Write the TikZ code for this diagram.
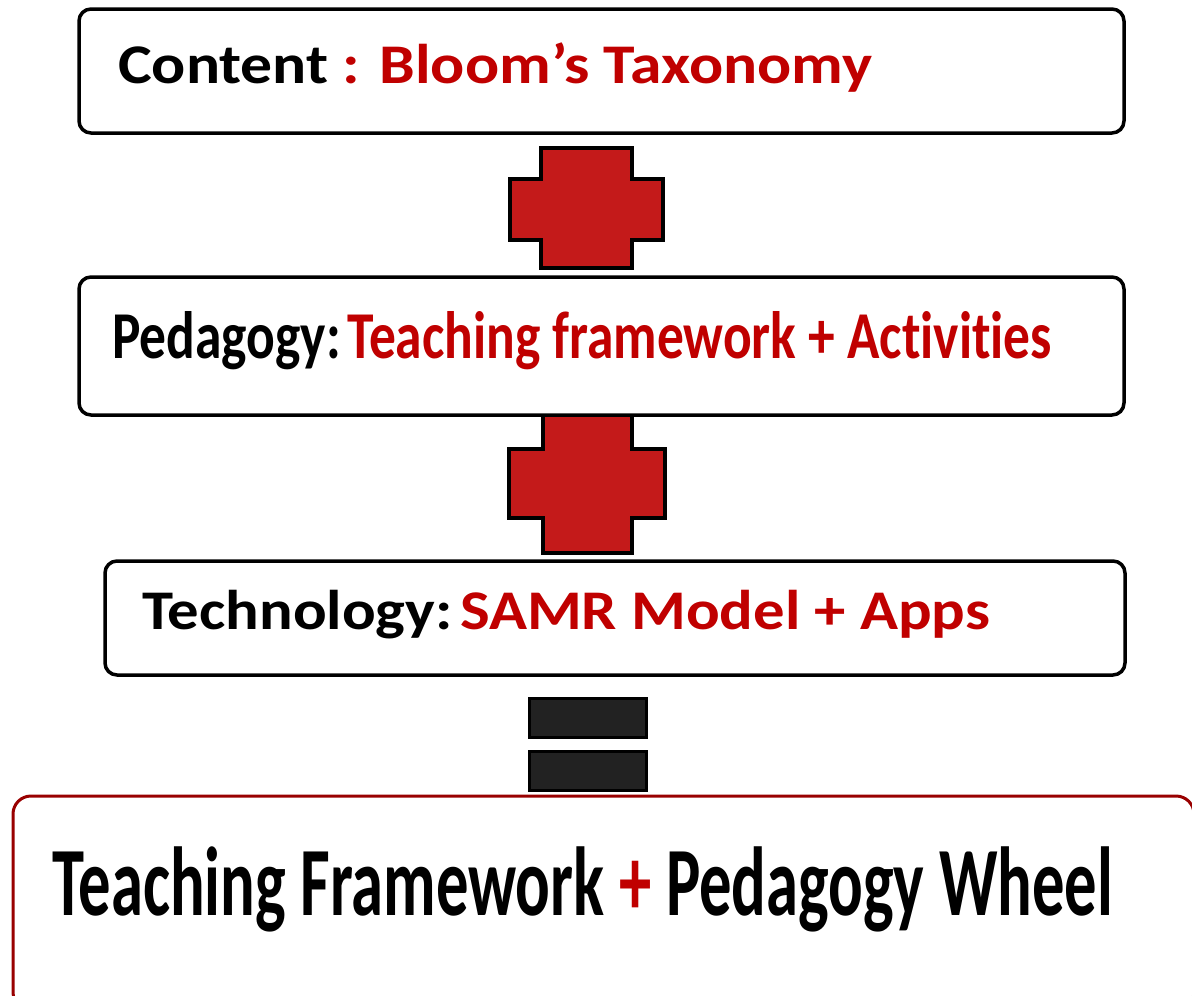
\documentclass[tikz,border=0pt]{standalone}
\usepackage{fontspec}
\setmainfont[RawFeature=-liga]{Carlito}
\usepackage{graphicx}
\definecolor{tred}{HTML}{C00000}
\definecolor{crossred}{HTML}{C41A1A}
\definecolor{darkred}{HTML}{990000}
\definecolor{barblack}{HTML}{222222}
% squeeze or stretch a line of text to a given width, height kept
\newcommand{\fitline}[2]{\resizebox{#1}{\height}{#2}}

\begin{document}
\begin{tikzpicture}[x=1pt,y=-1pt,
  box/.style={draw,line width=3.5pt,rounded corners=12pt,fill=white,inner sep=0pt},
  txt/.style={anchor=base west,inner sep=0pt,font=\bfseries},
  cross/.style={draw=black,line width=3.5pt,fill=crossred},
  bar/.style={draw=black,line width=3pt,fill=barblack}]
\useasboundingbox (0,0) rectangle (1192,996);

% plus signs and equals sign
\draw [cross] (541,148) -- (632,148) -- (632,179) -- (663,179) -- (663,240) -- (632,240)
  -- (632,268) -- (541,268) -- (541,240) -- (510,240) -- (510,179) -- (541,179) -- cycle;
\draw [cross] (543,400) -- (632,400) -- (632,449) -- (665,449) -- (665,518) -- (632,518)
  -- (632,553) -- (543,553) -- (543,518) -- (509,518) -- (509,449) -- (543,449) -- cycle;
\draw [bar] (529,698) rectangle (646,737);
\draw [bar] (529,751) rectangle (646,790);

% boxes
\node (content) [box,minimum width=1045pt,minimum height=124pt] at (601.5,71) {};
\node (pedagogy) [box,minimum width=1045pt,minimum height=138pt] at (601.5,346) {};
\node (technology) [box,minimum width=1020pt,minimum height=114pt] at (615,618) {};
\node (result) [box,draw=darkred,line width=3pt,rounded corners=18pt,
  minimum width=1181pt,minimum height=214pt] at (603.5,903) {};

% texts
\node (ctext) [txt] at (118,83) {\fitline{754pt}{\fontsize{56}{60}\selectfont
  Content \textcolor{tred}{: Bloom’s Taxonomy}}};
\node (ptext) [txt] at (112,358) {\fitline{940pt}{\fontsize{67}{72}\selectfont
  Pedagogy:\hspace{0.12em}\textcolor{tred}{Teaching framework + Activities}}};
\node (ttext) [txt] at (142,629) {\fitline{848pt}{\fontsize{56}{60}\selectfont
  Technology:\hspace{0.12em}\textcolor{tred}{SAMR Model + Apps}}};
\node (rtext) [txt] at (52,915) {\fitline{1061pt}{\fontsize{98}{104}\selectfont
  Teaching Framework \textcolor{tred}{+} Pedagogy Wheel}};
\end{tikzpicture}
\end{document}
